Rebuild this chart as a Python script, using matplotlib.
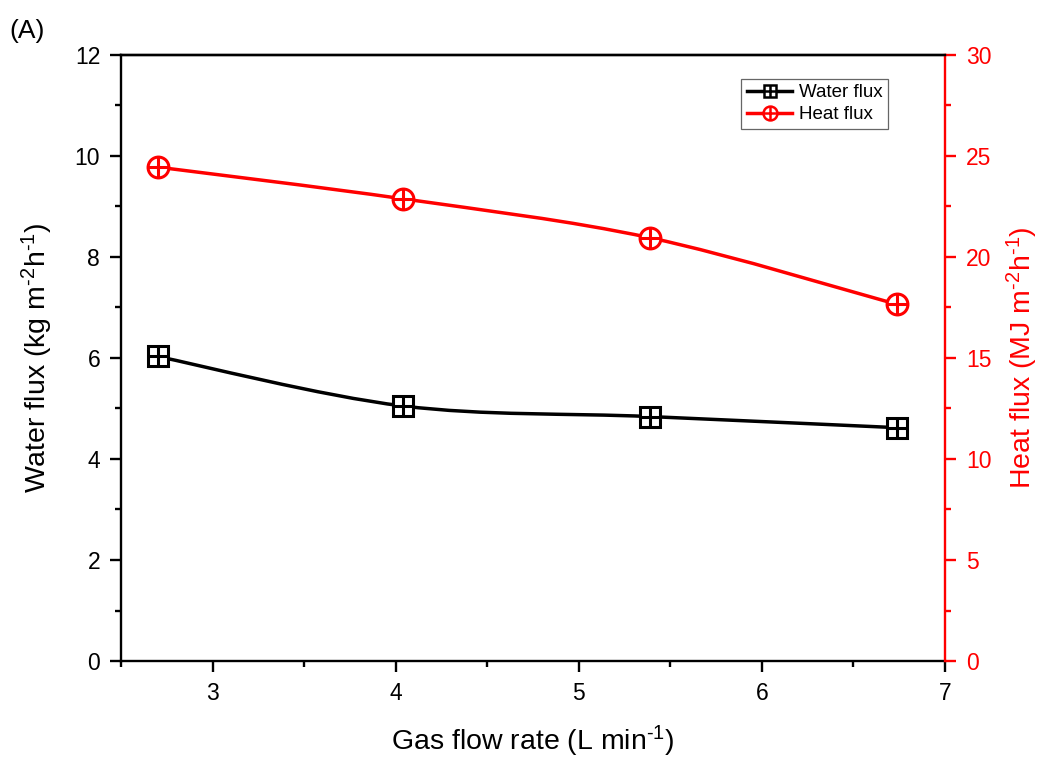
import matplotlib
matplotlib.use("Agg")
import matplotlib.pyplot as plt
from matplotlib.path import Path
from matplotlib.patches import PathPatch
from matplotlib.ticker import MultipleLocator
import numpy as np

plt.rcParams['font.family'] = ['Liberation Sans', 'DejaVu Sans']
plt.rcParams['mathtext.fontset'] = 'custom'
plt.rcParams['mathtext.rm'] = 'Liberation Sans'
plt.rcParams['mathtext.default'] = 'regular'

gas_flow = [2.70, 4.04, 5.39, 6.74]
water_flux = [6.03, 5.05, 4.84, 4.62]
heat_flux = [24.45, 22.88, 20.95, 17.65]


def smooth_path(xs, ys):
    xs = np.asarray(xs, float)
    ys = np.asarray(ys, float)
    px = np.concatenate([[xs[0]], xs, [xs[-1]]])
    py = np.concatenate([[ys[0]], ys, [ys[-1]]])
    verts = [(xs[0], ys[0])]
    codes = [Path.MOVETO]
    for i in range(1, len(px) - 2):
        p0 = np.array([px[i - 1], py[i - 1]])
        p1 = np.array([px[i], py[i]])
        p2 = np.array([px[i + 1], py[i + 1]])
        p3 = np.array([px[i + 2], py[i + 2]])
        c1 = p1 + (p2 - p0) / 6.0
        c2 = p2 - (p3 - p1) / 6.0
        verts += [tuple(c1), tuple(c2), tuple(p2)]
        codes += [Path.CURVE4] * 3
    return Path(verts, codes)


fig = plt.figure(figsize=(10.46, 7.67), dpi=100)
ax = fig.add_axes([0.1157, 0.1382, 0.7877, 0.7901])
ax2 = ax.twinx()

lw = 2.5
ax.add_patch(PathPatch(smooth_path(gas_flow, water_flux), fill=False, edgecolor='black', lw=lw, zorder=2))
ax2.add_patch(PathPatch(smooth_path(gas_flow, heat_flux), fill=False, edgecolor='red', lw=lw, zorder=2))

ms = 14
ax.plot(gas_flow, water_flux, ls='none', marker='s', ms=ms, mfc='white', mec='black', mew=2.2, zorder=3)
ax.plot(gas_flow, water_flux, ls='none', marker='+', ms=ms, mec='black', mew=2.2, zorder=4)
ax2.plot(gas_flow, heat_flux, ls='none', marker='o', ms=ms + 1, mfc='white', mec='red', mew=2.2, zorder=3)
ax2.plot(gas_flow, heat_flux, ls='none', marker='+', ms=ms + 1, mec='red', mew=2.2, zorder=4)

# legend proxies
lw1, = ax.plot([], [], color='black', lw=lw)
lh1, = ax.plot([], [], color='red', lw=lw)
lms = 9
lw2, = ax.plot([], [], ls='none', marker='s', ms=lms, mfc='white', mec='black', mew=1.8)
lw3, = ax.plot([], [], ls='none', marker='+', ms=lms, mec='black', mew=1.8)
lh2, = ax.plot([], [], ls='none', marker='o', ms=lms + 1, mfc='white', mec='red', mew=1.8)
lh3, = ax.plot([], [], ls='none', marker='+', ms=lms + 1, mec='red', mew=1.8)
leg = ax2.legend([(lw1, lw2, lw3), (lh1, lh2, lh3)], ['Water flux', 'Heat flux'],
                 loc='upper left', bbox_to_anchor=(0.753, 0.961), fontsize=13.5,
                 frameon=True, fancybox=False, edgecolor='#666666', framealpha=1,
                 handlelength=2.4, handletextpad=0.35, borderpad=0.3, labelspacing=0.25,
                 borderaxespad=0)
leg.get_frame().set_linewidth(0.9)

ax.set_xlim(2.5, 7)
ax.set_ylim(0, 12)
ax2.set_ylim(0, 30)

ax.xaxis.set_major_locator(MultipleLocator(1))
ax.xaxis.set_minor_locator(MultipleLocator(0.5))
ax.yaxis.set_major_locator(MultipleLocator(2))
ax.yaxis.set_minor_locator(MultipleLocator(1))
ax2.yaxis.set_major_locator(MultipleLocator(5))
ax2.yaxis.set_minor_locator(MultipleLocator(2.5))

for a in (ax, ax2):
    for s in a.spines.values():
        s.set_linewidth(1.7)

ax.spines['right'].set_visible(False)
ax2.spines['right'].set_color('red')
ax2.spines['left'].set_visible(False)
ax2.spines['bottom'].set_visible(False)

ax.tick_params(axis='both', which='major', direction='out', length=8, width=1.7, labelsize=16.5, pad=7)
ax.tick_params(axis='both', which='minor', direction='out', length=4.5, width=1.7)
ax.tick_params(top=False, which='both')
ax2.tick_params(axis='y', which='major', direction='out', length=8, width=1.7, labelsize=16.5,
                colors='red', pad=7)
ax2.tick_params(axis='y', which='minor', direction='out', length=4.5, width=1.7, colors='red')

ax.set_xlabel('Gas flow rate (L min$^{\\text{-1}}$)', fontsize=20.5, labelpad=14)
ax.set_ylabel('Water flux (kg m$^{\\text{-2}}$h$^{\\text{-1}}$)', fontsize=20.5, labelpad=14)
ax2.set_ylabel('Heat flux (MJ m$^{\\text{-2}}$h$^{\\text{-1}}$)', fontsize=20.5, color='red', labelpad=10)

fig.text(0.009, 0.975, '(A)', fontsize=19, va='top', ha='left')

fig.savefig('out.png', dpi=100)
